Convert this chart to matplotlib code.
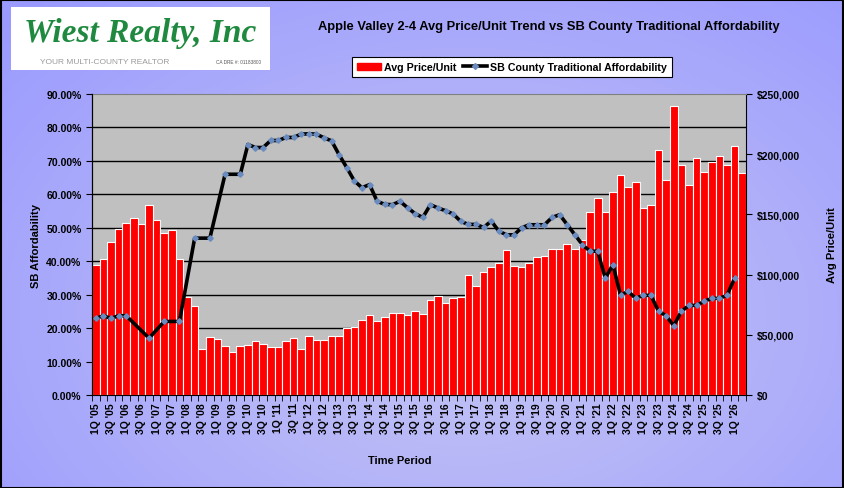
import matplotlib
matplotlib.use("Agg")
import matplotlib.pyplot as plt
import numpy as np
from matplotlib.patches import Patch, Rectangle
from matplotlib.lines import Line2D

# ---------------- data ----------------
years = list(range(2005, 2027))
quarters = [f"{q}Q '{y % 100:02d}" for y in years for q in (1, 2, 3, 4)][:86]

tick_labels = ["1Q '05", "3Q '05", "1Q '06", "3Q '06", "1Q '07", "3Q '07", "1Q '08", "3Q '08",
               "1Q '09", "3Q '09", "1Q '10", "3Q '10", "1Q '11", "3Q '11", "1Q '12", "3Q' 12",
               "1Q '13", "3Q '13", "1Q '14", "3Q '14", "1Q '15", "3Q '15", "1Q '16", "3Q '16",
               "1Q '17", "3Q '17", "1Q '18", "3Q '18", "1Q '19", "3Q '19", "1Q '20", "3Q '20",
               "1Q '21", "3Q '21", "1Q '22", "3Q '22", "1Q '23", "3Q '23", "1Q '24", "3Q '24",
               "1Q '25", "3Q '25", "1Q '26"]

avg_price = [107800, 112800, 127000, 137800, 142800, 147000, 142000, 157800, 145000, 134700,
             137000, 113000, 81400, 73600, 38300, 48100, 46700, 40600, 35600, 40600,
             41700, 44700, 42200, 40000, 40000, 44700, 47200, 38300, 48900, 45600,
             45600, 49400, 49400, 55600, 56400, 62200, 66100, 61400, 64700, 67800,
             67800, 66400, 69700, 66900, 78900, 82200, 76400, 80600, 81400, 99400,
             90300, 102200, 106400, 109700, 120300, 107200, 106400, 110000, 114700, 115600,
             121400, 121400, 125600, 121400, 128600, 151700, 163300, 151700, 168900, 183000,
             173000, 176900, 155600, 158000, 203900, 178600, 239700, 191400, 174400, 197200,
             185600, 193300, 198900, 191100, 206400, 184700]

affordability = [22.9, 23.7, 22.9, 23.7, 23.7, None, None, 17.0, None, 22.0,
                 None, 22.0, None, 46.9, None, 46.9, None, 66.0, None, 66.0,
                 74.9, 74.0, 74.0, 76.1, 76.1, 77.0, 77.0, 78.0, 78.1, 78.0,
                 76.9, 76.0, 71.8, 68.0, 64.0, 62.0, 62.9, 57.9, 57.0, 56.9,
                 57.9, 56.0, 54.2, 53.1, 56.9, 55.9, 55.1, 54.1, 51.9, 51.0,
                 51.0, 50.1, 52.0, 49.0, 47.9, 47.9, 50.0, 50.9, 50.9, 50.9,
                 53.1, 53.9, 50.9, 47.9, 44.9, 43.0, 43.0, 34.9, 39.0, 29.8,
                 31.0, 28.9, 29.8, 29.8, 25.0, 23.7, 20.7, 25.0, 26.8, 26.8,
                 28.0, 28.9, 28.9, 29.8, 34.9]

# ---------------- figure ----------------
W, H = 845, 489
fig = plt.figure(figsize=(W / 100, H / 100), dpi=100)

FONT = ["Liberation Sans", "DejaVu Sans"]
plt.rcParams["font.family"] = FONT

# gradient background
bg = fig.add_axes([0, 0, 1, 1], zorder=-10)
gy, gx = np.mgrid[0:1:200j, 0:1:300j]
d = np.sqrt(((gx - 0.55) / 0.75) ** 2 + ((gy - 0.65) / 0.9) ** 2)
d = np.clip(d, 0, 1)
c_center = np.array([0xC6, 0xC6, 0xF4]) / 255
c_edge = np.array([0x9A, 0x9A, 0xFF]) / 255
img = c_center[None, None, :] * (1 - d[..., None]) + c_edge[None, None, :] * d[..., None]
bg.imshow(img, aspect="auto", extent=[0, 1, 0, 1], origin="upper")
bg.set_axis_off()
fig.patches.append(Rectangle((0.001, 0.001), 0.997, 0.997, transform=fig.transFigure,
                             fill=False, edgecolor="black", linewidth=1.5))

# plot area
left, right, top, bottom = 92, 746, 95, 396
ax = fig.add_axes([left / W, 1 - bottom / H, (right - left) / W, (bottom - top) / H])
ax2 = ax.twinx()

ax.set_facecolor("#C0C0C0")
x = np.arange(len(avg_price))
ax.bar(x, avg_price, width=1.0, color="#FF0000", edgecolor="white", linewidth=0.8, zorder=2)
ax.set_xlim(-0.5, len(avg_price) - 0.5)
ax.set_ylim(0, 250000)
ax.yaxis.tick_right()
ax.yaxis.set_label_position("right")
ax.set_yticks(np.arange(0, 250001, 50000))
ax.set_yticklabels([f"${v:,.0f}" for v in np.arange(0, 250001, 50000)],
                   fontsize=7.5, fontweight="bold")
ax.set_yticks([250000 / 9 * k for k in range(1, 9)], minor=True)
ax.grid(which="minor", axis="y", color="black", linewidth=1.0)
ax.set_axisbelow(True)
ax.tick_params(axis="y", which="minor", length=0, right=False, left=False)
ax.tick_params(axis="y", which="major", length=4, direction="out", right=True, left=False,
               labelright=True, labelleft=False)
ax.set_ylabel("Avg Price/Unit", fontsize=8, fontweight="bold", labelpad=20)

# x ticks
label_pos = x[::2][:len(tick_labels)]
ax.set_xticks(label_pos)
ax.set_xticklabels(tick_labels, rotation=90, fontsize=7.5, fontweight="bold")
ax.set_xticks(np.arange(-0.5, len(avg_price), 1), minor=True)
ax.tick_params(axis="x", which="major", length=0, pad=5)
ax.tick_params(axis="x", which="minor", length=4)
ax.set_xlabel("Time Period", fontsize=8, fontweight="bold")
ax.xaxis.set_label_coords(0.47, -0.2)

for s in ax.spines.values():
    s.set_color("black")
    s.set_linewidth(0.8)
ax.spines["top"].set_color("#808080")

# affordability line on twin axis (left)
ax2.yaxis.tick_left()
ax2.yaxis.set_label_position("left")
ax2.set_ylim(0, 90)
ax2.set_yticks(np.arange(0, 91, 10))
ax2.set_yticklabels([f"{v:.2f}%" for v in np.arange(0, 91, 10)], fontsize=7.5, fontweight="bold")
ax2.tick_params(axis="y", length=4, left=True, right=False, labelleft=True, labelright=False)
ax2.set_ylabel("SB Affordability", fontsize=8, fontweight="bold", labelpad=4)
ax_x = [i for i, v in enumerate(affordability) if v is not None]
ax_y = [v for v in affordability if v is not None]
ax2.plot(ax_x, ax_y, color="black", linewidth=2.6, marker="D", markersize=2.8,
         markerfacecolor="#6A8CC0", markeredgecolor="#6A8CC0", zorder=5)
for s in ax2.spines.values():
    s.set_visible(False)
ax2.spines["left"].set_visible(True)
ax2.spines["left"].set_color("black")
ax2.spines["left"].set_linewidth(0.8)

# title
fig.text(549 / W, 1 - 27 / H,
         "Apple Valley 2-4 Avg Price/Unit Trend vs SB County Traditional Affordability",
         ha="center", va="center", fontsize=9.3, fontweight="bold")

# legend
handles = [Patch(facecolor="#FF0000", edgecolor="#FF0000"),
           Line2D([0], [0], color="black", linewidth=2.6, marker="D", markersize=3,
                  markerfacecolor="#6A8CC0", markeredgecolor="#6A8CC0")]
leg = fig.legend(handles, ["Avg Price/Unit", "SB County Traditional Affordability"],
                 loc="center", bbox_to_anchor=(512 / W, 1 - 68 / H), ncol=2,
                 frameon=True, fancybox=False, edgecolor="black", framealpha=1,
                 handlelength=2.2, handletextpad=0.3, columnspacing=0.6,
                 borderpad=0.5, prop={"weight": "bold", "size": 7.7})
leg.get_frame().set_linewidth(0.8)

# logo
logo = fig.add_axes([11 / W, 1 - 71 / H, 259 / W, 63 / H])
logo.set_xlim(0, 1)
logo.set_ylim(0, 1)
logo.set_facecolor("white")
logo.set_xticks([])
logo.set_yticks([])
for s in logo.spines.values():
    s.set_visible(False)
logo.text(0.5, 0.6, "Wiest Realty, Inc", ha="center", va="center", fontsize=24,
          color="#1F8A3F", style="italic", fontweight="bold",
          family=["Liberation Serif", "DejaVu Serif"])
logo.text(0.36, 0.13, "YOUR MULTI-COUNTY REALTOR", ha="center", va="center", fontsize=6,
          color="#9A9A9A")
logo.text(0.88, 0.13, "CA DRE #: 01183800", ha="center", va="center", fontsize=3.4,
          color="#555555")

fig.savefig("out.png", dpi=100)
